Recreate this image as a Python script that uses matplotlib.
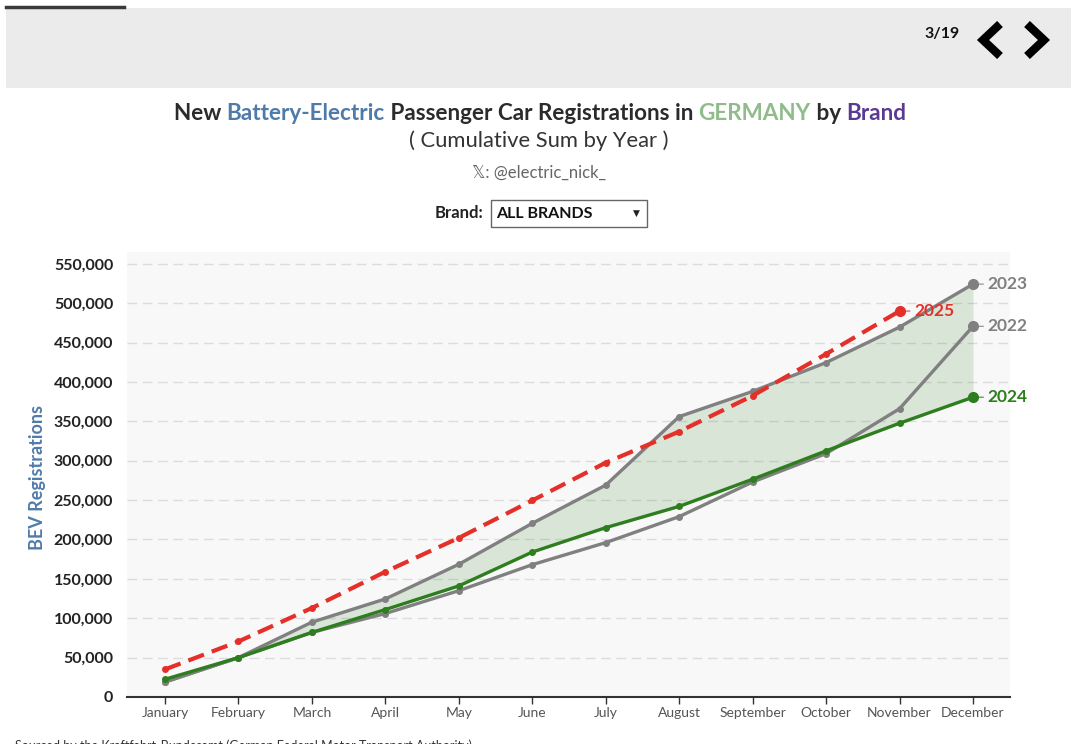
import matplotlib
matplotlib.use("Agg")
import matplotlib.pyplot as plt
from matplotlib.patches import Rectangle
from matplotlib.lines import Line2D

plt.rcParams['font.family'] = ['Lato', 'DejaVu Sans']

months = ['January', 'February', 'March', 'April', 'May', 'June', 'July',
          'August', 'September', 'October', 'November', 'December']

# cumulative BEV registrations
reg_2022 = [19000, 50000, 82000, 106000, 135000, 168000, 196000, 229000,
            273000, 309000, 366000, 470600]
reg_2023 = [19000, 50000, 95000, 124500, 168500, 220500, 269000, 356000,
            388000, 424600, 469600, 524200]
reg_2024 = [22500, 50000, 82000, 111000, 141000, 184000, 215000, 242000,
            276500, 312500, 347600, 380600]
reg_2025 = [35000, 70500, 113000, 159000, 202000, 249500, 297500, 337000,
            382500, 435500, 490000]

yticks = list(range(0, 550001, 50000))

W, H = 1077, 744
GRAY = '#808080'
GREEN = '#2e7d1f'
RED = '#e5302a'


def fx(px):
    return px / W


def fy(py):
    return 1 - py / H


fig = plt.figure(figsize=(W / 100, H / 100), dpi=100)
fig.patch.set_facecolor('white')

# header bar
fig.patches.append(Rectangle((fx(6), fy(88)), fx(1071) - fx(6), fy(8) - fy(88),
                             transform=fig.transFigure, facecolor='#ebebeb',
                             edgecolor='none', zorder=0))
fig.lines.append(Line2D([fx(6), fx(124)], [fy(6.5), fy(6.5)], transform=fig.transFigure,
                        color='#3a3a3a', lw=2.5))
fig.text(fx(942), fy(34), '3/19', ha='center', va='center', fontsize=11.5,
         fontweight='bold', color='#111')
for pts in ([(1000, 24), (983, 40), (1000, 56)], [(1027, 24), (1044, 40), (1027, 56)]):
    fig.lines.append(Line2D([fx(p[0]) for p in pts], [fy(p[1]) for p in pts],
                            transform=fig.transFigure, color='black', lw=6,
                            solid_capstyle='butt', solid_joinstyle='miter'))

# multi-coloured title
segments = [('New ', '#2b2b2b'), ('Battery-Electric', '#4f7bab'),
            (' Passenger Car Registrations in ', '#2b2b2b'), ('GERMANY', '#8fbc8a'),
            (' by ', '#2b2b2b'), ('Brand', '#5b3a91')]
renderer = fig.canvas.get_renderer()
texts = []
for s, c in segments:
    t = fig.text(0, fy(113), s, color=c, fontsize=16.2, fontweight='bold', va='center')
    texts.append(t)
widths = [t.get_window_extent(renderer).width for t in texts]
x0 = 540 - sum(widths) / 2
for t, w in zip(texts, widths):
    t.set_x(fx(x0))
    x0 += w

fig.text(fx(539), fy(141), '( Cumulative Sum by Year )', ha='center', va='center',
         fontsize=15.8, color='#333')
fig.text(fx(539), fy(173), '\U0001D54F: @electric_nick_', ha='center', va='center',
         fontsize=12, color='#666', family=['Lato', 'DejaVu Sans'])

# brand dropdown
fig.text(fx(483), fy(213), 'Brand:', ha='right', va='center', fontsize=12,
         fontweight='bold', color='#222')
fig.patches.append(Rectangle((fx(491), fy(227)), fx(647) - fx(491), fy(200) - fy(227),
                             transform=fig.transFigure, facecolor='white',
                             edgecolor='#666', lw=1))
fig.text(fx(496), fy(213.5), 'ALL BRANDS', ha='left', va='center', fontsize=11.5,
         fontweight='bold', color='#111')
fig.text(fx(636), fy(213), '\u25BC', ha='center', va='center', fontsize=6.5,
         color='#222', family=['DejaVu Sans'])

# main plot
ax = fig.add_axes([fx(127), fy(697), fx(1010) - fx(127), fy(252) - fy(697)])
ax.set_facecolor('#f8f8f8')
x = list(range(len(months)))

ax.fill_between(x, reg_2023, reg_2024, color='#2e7d1f', alpha=0.15, lw=0, zorder=1)
ax.plot(x, reg_2022, color=GRAY, lw=2.4, marker='o', ms=4, zorder=3)
ax.plot(x, reg_2023, color=GRAY, lw=2.4, marker='o', ms=4, zorder=3)
ax.plot(x, reg_2024, color=GREEN, lw=2.4, marker='o', ms=4, zorder=4)
ax.plot(x[:len(reg_2025)], reg_2025, color=RED, lw=3, ls=(0, (4, 2)), marker='o', ms=4,
        zorder=5)

ends = [(reg_2023, GRAY, '2023'), (reg_2022, GRAY, '2022'),
        (reg_2024, GREEN, '2024'), (reg_2025, RED, '2025')]
for series, c, lab in ends:
    xi = len(series) - 1
    ax.plot(xi, series[-1], 'o', color=c, ms=7, zorder=6, clip_on=False)
    ax.annotate(lab, xy=(xi, series[-1]), xytext=(10.5, 0), textcoords='offset points',
                va='center', ha='left', fontsize=12.5, fontweight='bold', color=c,
                annotation_clip=False, zorder=7,
                arrowprops=dict(arrowstyle='-', color=c, lw=0.9, alpha=0.8,
                                relpos=(0, 0.5), shrinkA=1, shrinkB=4))

ax.set_xlim(-0.517, 11.504)
ax.set_ylim(0, 565000)
ax.set_xticks(x)
ax.set_xticklabels(months, fontsize=10, color='#555')
ax.set_yticks(yticks)
ax.set_yticklabels([f'{v:,}' for v in yticks], fontsize=11.5, fontweight='bold', color='#222')
ax.tick_params(axis='y', length=0, pad=10)
ax.tick_params(axis='x', length=5, width=1, color='#333', pad=2)
ax.grid(axis='y', color='#dcdcdc', lw=1, ls=(0, (7, 4)))
ax.set_axisbelow(True)
for side in ['top', 'right', 'left']:
    ax.spines[side].set_visible(False)
ax.spines['bottom'].set_color('#333')
ax.spines['bottom'].set_linewidth(1.5)

fig.text(fx(37), fy(477), 'BEV Registrations', rotation=90, ha='center', va='center',
         fontsize=13, fontweight='bold', color='#4f7bab')

fig.text(fx(15), fy(746), 'Sourced by the Kraftfahrt-Bundesamt (German Federal Motor Transport Authority)',
         ha='left', va='center', fontsize=9, color='#333')

fig.savefig('out.png', dpi=100)
